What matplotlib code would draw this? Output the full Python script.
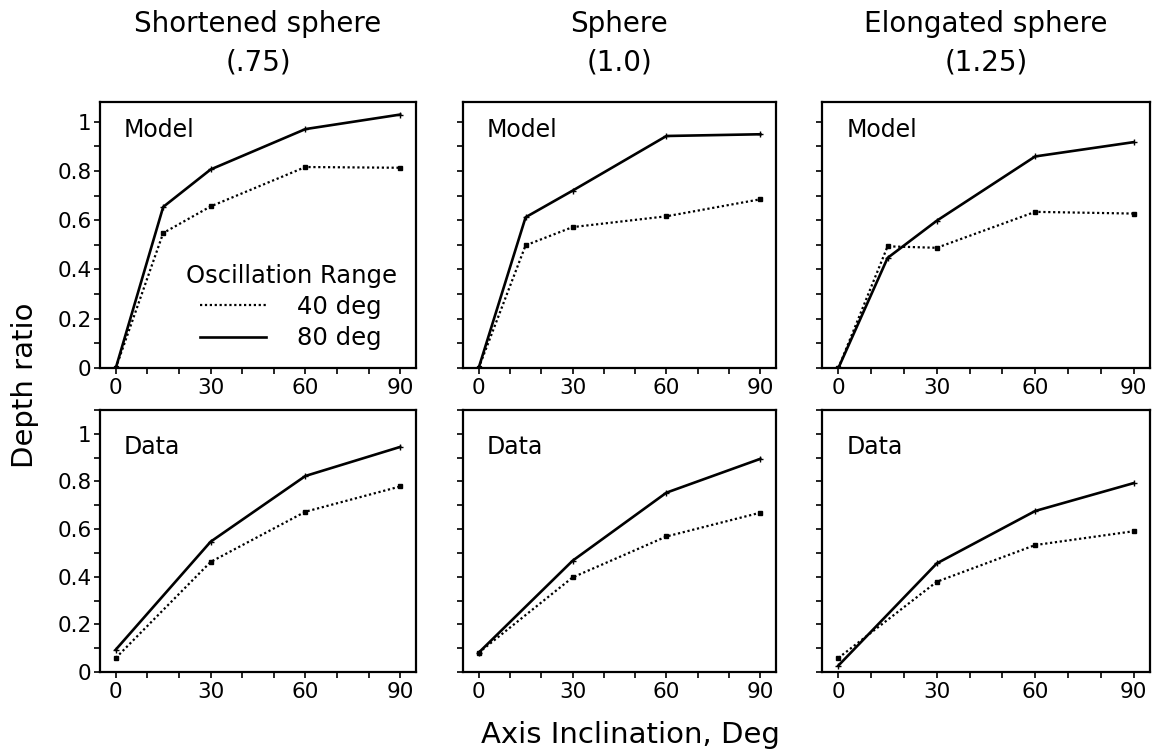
import matplotlib
matplotlib.use("Agg")
import matplotlib.pyplot as plt
from matplotlib.ticker import MultipleLocator, FixedLocator

plt.rcParams['font.family'] = ['DejaVu Sans']

# ---- data ----
titles = ["Shortened sphere\n(.75)", "Sphere\n(1.0)", "Elongated sphere\n(1.25)"]
row_labels = ["Model", "Data"]
series_labels = ["40 deg", "80 deg"]

model_x = [0, 15, 30, 60, 90]
data_x = [0, 30, 60, 90]

# Model (top row)
model_40 = [
    [0.0, 0.548, 0.656, 0.816, 0.813],   # shortened
    [0.0, 0.498, 0.572, 0.616, 0.685],   # sphere
    [0.0, 0.494, 0.488, 0.634, 0.627],   # elongated
]
model_80 = [
    [0.0, 0.654, 0.806, 0.970, 1.029],
    [0.0, 0.612, 0.720, 0.942, 0.949],
    [0.0, 0.447, 0.598, 0.859, 0.917],
]
# Data (bottom row)
data_40 = [
    [0.059, 0.462, 0.673, 0.779],
    [0.081, 0.397, 0.569, 0.669],
    [0.059, 0.379, 0.533, 0.591],
]
data_80 = [
    [0.094, 0.547, 0.823, 0.945],
    [0.081, 0.467, 0.753, 0.895],
    [0.027, 0.456, 0.676, 0.793],
]

x_major = [0, 30, 60, 90]
y_major = [0, 0.2, 0.4, 0.6, 0.8, 1.0]
y_major_labels = ["0", "0.2", "0.4", "0.6", "0.8", "1"]

# ---- figure ----
W, H = 1154, 752
fig = plt.figure(figsize=(W / 100, H / 100), dpi=100)

cols_px = [(100, 416), (463, 776), (822, 1150)]
rows_px = [(102, 368), (410, 672)]
ylims = [(0, 1.08), (0, 1.1)]

def add_ax(l, r, t, b):
    return fig.add_axes([l / W, 1 - b / H, (r - l) / W, (b - t) / H])

tick_fs = 15.5
for ri, (t, b) in enumerate(rows_px):
    for ci, (l, r) in enumerate(cols_px):
        ax = add_ax(l, r, t, b)
        if ri == 0:
            xs, y40, y80 = model_x, model_40[ci], model_80[ci]
        else:
            xs, y40, y80 = data_x, data_40[ci], data_80[ci]
        ax.plot(xs, y40, linestyle=(0, (1, 1.2)), color='black', lw=1.6,
                marker='s', ms=3.2, mfc='black', mec='black', label=series_labels[0])
        ax.plot(xs, y80, linestyle='-', color='black', lw=1.9,
                marker='+', ms=4, mew=1.0, label=series_labels[1])
        ax.set_xlim(-5, 95)
        ax.set_ylim(*ylims[ri])
        ax.xaxis.set_major_locator(FixedLocator(x_major))
        ax.xaxis.set_minor_locator(MultipleLocator(10))
        ax.yaxis.set_major_locator(FixedLocator(y_major))
        ax.yaxis.set_minor_locator(MultipleLocator(0.1))
        ax.tick_params(axis='both', which='both', direction='out', length=4,
                       width=1.2, labelsize=tick_fs, pad=2)
        ax.tick_params(axis='x', which='major', pad=3)
        ax.set_xticklabels([str(v) for v in x_major])
        if ci == 0:
            ax.set_yticklabels(y_major_labels)
        else:
            ax.set_yticklabels([])
        for sp in ax.spines.values():
            sp.set_linewidth(1.6)
        ax.text(0.075, 0.895 if ri == 0 else 0.86, row_labels[ri],
                transform=ax.transAxes, fontsize=17, ha='left', va='center')
        if ri == 0 and ci == 0:
            leg = ax.legend(loc='center', bbox_to_anchor=(0.605, 0.23),
                            frameon=False, title="Oscillation Range",
                            fontsize=17.5, title_fontsize=17.5, handlelength=2.7,
                            handletextpad=1.3, labelspacing=0.3,
                            borderpad=0.1, markerscale=0)
            for h in leg.legend_handles:
                h.set_marker('')

# titles
for (l, r), ttl in zip(cols_px, titles):
    line1, line2 = ttl.split("\n")
    cx = (l + r) / 2 / W
    fig.text(cx, 1 - 24 / H, line1, ha='center', va='center', fontsize=20)
    fig.text(cx, 1 - 62 / H, line2, ha='center', va='center', fontsize=20)

fig.text(25 / W, 1 - 385 / H, "Depth ratio", rotation=90, ha='center',
         va='center', fontsize=21)
fig.text(630 / W, 1 - 735 / H, "Axis Inclination, Deg", ha='center',
         va='center', fontsize=21)

fig.savefig("out.png", dpi=100, facecolor='white')
